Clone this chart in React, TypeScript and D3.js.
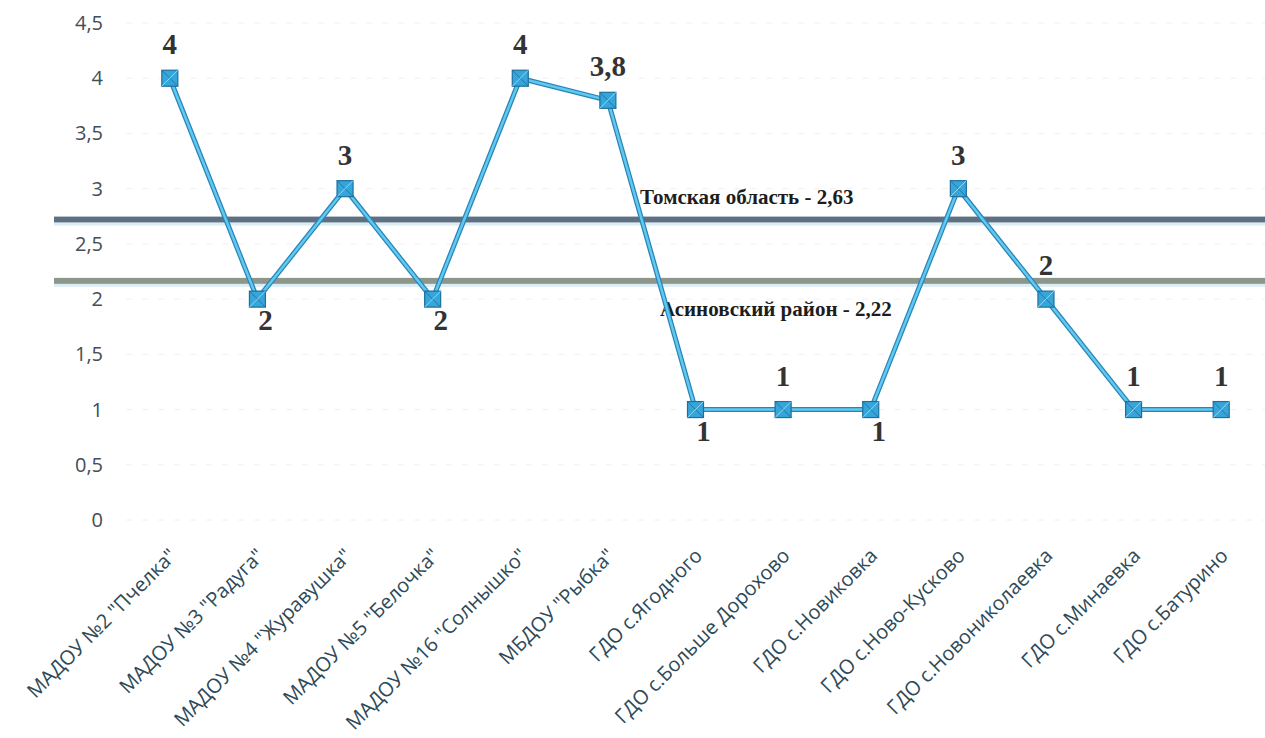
import React from "react";
import * as d3 from "d3";

const categories = [
  'МАДОУ №2 "Пчелка"',
  'МАДОУ №3 "Радуга"',
  'МАДОУ №4 "Журавушка"',
  'МАДОУ №5 "Белочка"',
  'МАДОУ №16 "Солнышко"',
  'МБДОУ "Рыбка"',
  "ГДО с.Ягодного",
  "ГДО с.Больше Дорохово",
  "ГДО с.Новиковка",
  "ГДО с.Ново-Кусково",
  "ГДО с.Новониколаевка",
  "ГДО с.Минаевка",
  "ГДО с.Батурино",
];
const values = [4, 2, 3, 2, 4, 3.8, 1, 1, 1, 3, 2, 1, 1];
const valueLabels = ["4", "2", "3", "2", "4", "3,8", "1", "1", "1", "3", "2", "1", "1"];
const labelBelow = [false, true, false, true, false, false, true, false, true, false, false, false, false];
const yTicks = [0, 0.5, 1, 1.5, 2, 2.5, 3, 3.5, 4, 4.5];
const refNames = ["Томская область - 2,63", "Асиновский район - 2,22"];
const refLevels = [2.72, 2.165];
const refColors = ["#5d7183", "#8d968b"];

export default function App() {
  const W = 1265, H = 738;
  const x = d3.scalePoint<string>().domain(categories).range([126, 1265]).padding(0.5);
  const y = d3.scaleLinear().domain([0, 4.5]).range([520, 23]);
  const line = d3.line<number>().x((_, i) => x(categories[i])!).y((v) => y(v));
  const path = line(values) || "";
  const fmt = (v: number) => String(v).replace(".", ",");

  return (
    <svg width={W} height={H} style={{ position: "absolute", left: 0, top: 0, background: "#fff" }}>
      {yTicks.map((t) => (
        <g key={t}>
          <line x1={126} x2={1265} y1={y(t)} y2={y(t)} stroke="#f0f0f0" strokeWidth={1} strokeDasharray="6 10" />
          <text x={103} y={y(t)} dy="0.35em" textAnchor="end" fontFamily="'Open Sans', sans-serif" fontSize={20} fill="#454d55">
            {fmt(t)}
          </text>
        </g>
      ))}
      {refLevels.map((lv, i) => (
        <g key={i}>
          <rect x={54} width={W - 54} y={y(lv) - 3} height={6} fill={refColors[i]} />
          <rect x={54} width={W - 54} y={y(lv) + 3} height={3} fill="#cfe6f2" opacity={0.7} />
        </g>
      ))}
      <text x={640} y={204} fontFamily="'Liberation Serif', serif" fontWeight="bold" fontSize={21} fill="#1d1d1d">
        {refNames[0]}
      </text>
      <text x={660} y={316} fontFamily="'Liberation Serif', serif" fontWeight="bold" fontSize={21} fill="#1d1d1d">
        {refNames[1]}
      </text>
      <path d={path} fill="none" stroke="#2786b8" strokeWidth={5} strokeLinejoin="round" />
      <path d={path} fill="none" stroke="#62c8f0" strokeWidth={2.5} strokeLinejoin="round" />
      {values.map((v, i) => {
        const cx = x(categories[i])!, cy = y(v), s = 8;
        return (
          <g key={i}>
            <rect x={cx - s} y={cy - s} width={2 * s} height={2 * s} fill="#36a6da" stroke="#1d6f9e" strokeWidth={1.2} />
            <line x1={cx - s} y1={cy - s} x2={cx + s} y2={cy + s} stroke="#1f78a8" strokeWidth={1} />
            <line x1={cx + s} y1={cy - s} x2={cx - s} y2={cy + s} stroke="#8ed8f6" strokeWidth={1} />
          </g>
        );
      })}
      {values.map((v, i) => {
        const cx = x(categories[i])!, cy = y(v);
        const below = labelBelow[i];
        return (
          <text
            key={i}
            x={below ? cx + 8 : cx}
            y={below ? cy + 31 : cy - 24}
            textAnchor="middle"
            fontFamily="'Liberation Serif', serif"
            fontWeight="bold"
            fontSize={29}
            fill="#333"
          >
            {valueLabels[i]}
          </text>
        );
      })}
      {categories.map((c) => (
        <text
          key={c}
          transform={`translate(${x(c)! + 8},${557}) rotate(-45)`}
          textAnchor="end"
          fontFamily="'Open Sans', sans-serif"
          fontSize={20}
          fill="#2d4a58"
        >
          {c}
        </text>
      ))}
    </svg>
  );
}
